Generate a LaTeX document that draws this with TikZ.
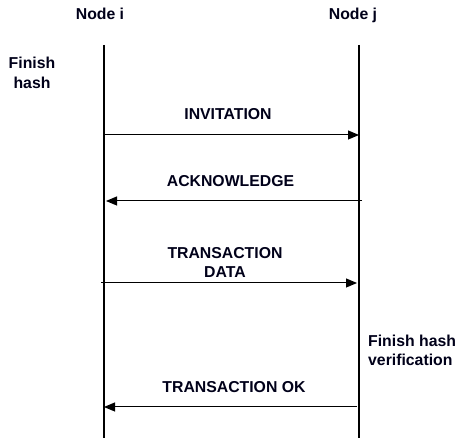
\documentclass[tikz,border=0pt]{standalone}
\usepackage{fontspec}
\setmainfont{Liberation Sans}
\usetikzlibrary{arrows.meta}
\begin{document}
\begin{tikzpicture}[x=1pt,y=-1pt,
  lbl/.style={font=\bfseries\fontsize{15.8}{19.5}\selectfont, inner sep=0pt, text=black!90!blue},
  life/.style={line width=2pt},
  msg/.style={line width=1pt, -{Triangle[length=11pt,width=9pt]}}]
\useasboundingbox (0,0) rectangle (456,438);
% headers
\node[lbl, anchor=base] (ni) at (100,20) {Node i};
\node[lbl, anchor=base] (nj) at (353,20) {Node j};
% lifelines
\coordinate (it) at (104,45);
\coordinate (ib) at (104,438);
\coordinate (jt) at (359,45);
\coordinate (jb) at (359,438);
\draw[life] (it) -- (ib);
\draw[life] (jt) -- (jb);
% side notes
\node[lbl, align=center, anchor=north] (fh) at (32,57) {Finish\\hash};
\node[lbl, align=left, anchor=north west] (fhv) at (368,334.5) {Finish hash\\verification};
% messages
\coordinate (m1a) at (104,135); \coordinate (m1b) at (359,135);
\coordinate (m2a) at (362,201); \coordinate (m2b) at (106,201);
\coordinate (m3a) at (101,283); \coordinate (m3b) at (357,283);
\coordinate (m4a) at (357,407); \coordinate (m4b) at (104,407);
\draw[msg] (m1a) -- (m1b);
\draw[msg] (m2a) -- (m2b);
\draw[msg] (m3a) -- (m3b);
\draw[msg] (m4a) -- (m4b);
\node[lbl, anchor=base] (l1) at (228,120) {INVITATION};
\node[lbl, anchor=base] (l2) at (230.5,187) {ACKNOWLEDGE};
\node[lbl, align=center, anchor=north] (l3) at (225,247) {TRANSACTION\\DATA};
\node[lbl, anchor=base] (l4) at (234,393) {TRANSACTION OK};
\end{tikzpicture}
\end{document}
